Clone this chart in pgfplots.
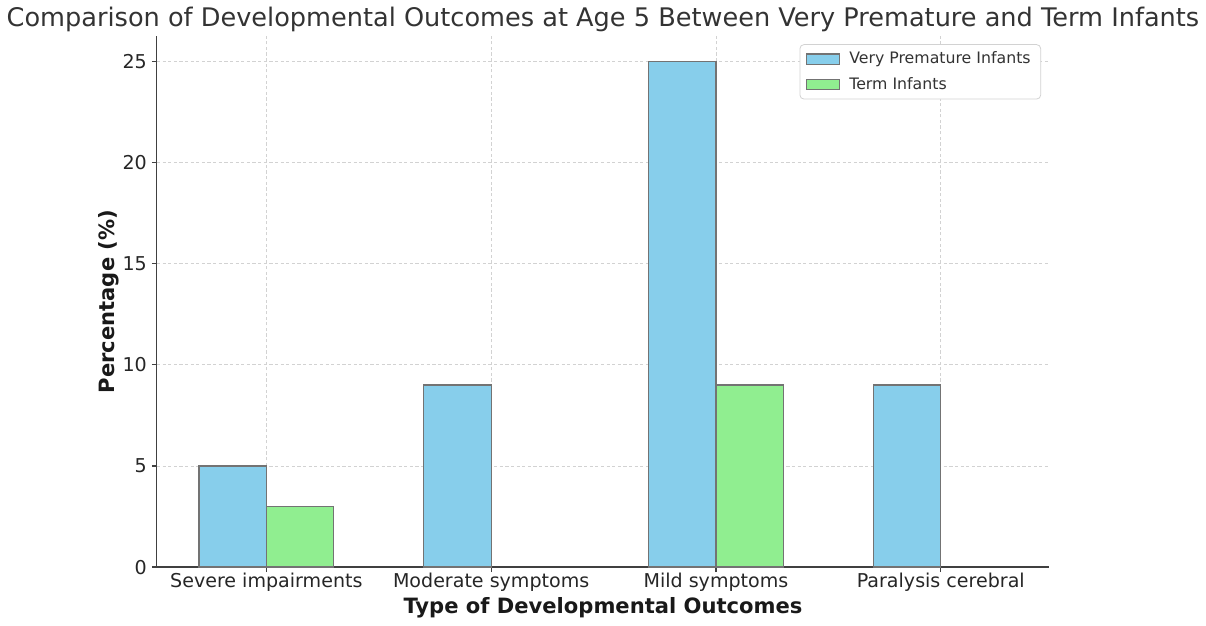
\documentclass[border=0pt]{standalone}
\usepackage{pgfplots}
\pgfplotsset{compat=1.18}
\usepackage{fontspec}
\setmainfont{DejaVu Sans}
\definecolor{skyblue}{RGB}{135,206,235}
\definecolor{lightgreen}{RGB}{144,238,144}
\definecolor{edgegrey}{RGB}{115,115,115}
\definecolor{spine}{RGB}{64,64,64}
\definecolor{gridc}{RGB}{210,210,210}
\begin{document}
\begin{tikzpicture}
\begin{axis}[
  scale only axis, width=444.5pt, height=264.5pt,
  xmin=-0.487, xmax=3.482, ymin=0, ymax=26.25,
  xtick={0,1,2,3},
  xticklabels={Severe impairments, Moderate symptoms, Mild symptoms, Paralysis cerebral},
  ytick={0,5,10,15,20,25},
  axis x line*=bottom, axis y line*=left,
  axis line style={spine, line width=0.6pt, -},
  tick align=outside, major tick length=2.5pt,
  tick style={spine, line width=0.6pt},
  grid=major, grid style={gridc, dash pattern=on 1.6pt off 1.2pt, line width=0.45pt},
  ticklabel style={font=\fontsize{9.5}{11}\selectfont, text=black!85},
  xticklabel style={anchor=base, yshift=-7.5pt},
  yticklabel style={anchor=east, xshift=1pt},
  /pgf/number format/assume math mode=true,
  xlabel={Type of Developmental Outcomes},
  ylabel={Percentage (\%)},
  every axis x label/.style={at={(rel axis cs:0.5,0)}, anchor=center, yshift=-20.5pt},
  every axis y label/.style={at={(rel axis cs:0,0.5)}, anchor=center, xshift=-24pt, rotate=90},
  label style={font=\bfseries\fontsize{10.5}{12}\selectfont, text=black!90},
  title={Comparison of Developmental Outcomes at Age 5 Between Very Premature and Term Infants},
  every axis title/.style={at={(rel axis cs:0.5,1)}, anchor=base, yshift=5pt},
  title style={font=\fontsize{12.75}{14}\selectfont, text=black!80},
  legend style={at={(rel axis cs:1,1)}, anchor=north east, xshift=-4pt, yshift=-4pt,
    draw=gridc, rounded corners=2pt, fill=white, font=\fontsize{7.85}{9}\selectfont,
    text=black!80, inner xsep=3pt, inner ysep=1.5pt, row sep=1.2pt},
  legend cell align=left,
  ybar, bar width=0.3,
]
\addplot[fill=skyblue, draw=edgegrey, line width=0.6pt, bar shift=-0.15,
  legend image code/.code={\draw[sharp corners, fill=skyblue, draw=edgegrey, line width=0.6pt] (0pt,-2.5pt) rectangle (16.5pt,2.5pt); \path (19pt,0pt);}]
  coordinates {(0,5) (1,9) (2,25) (3,9)};
\addplot[fill=lightgreen, draw=edgegrey, line width=0.6pt, bar shift=0.15,
  legend image code/.code={\draw[sharp corners, fill=lightgreen, draw=edgegrey, line width=0.6pt] (0pt,-2.5pt) rectangle (16.5pt,2.5pt); \path (19pt,0pt);}]
  coordinates {(0,3) (2,9)};
\legend{Very Premature Infants, Term Infants}
\end{axis}
\end{tikzpicture}
\end{document}
